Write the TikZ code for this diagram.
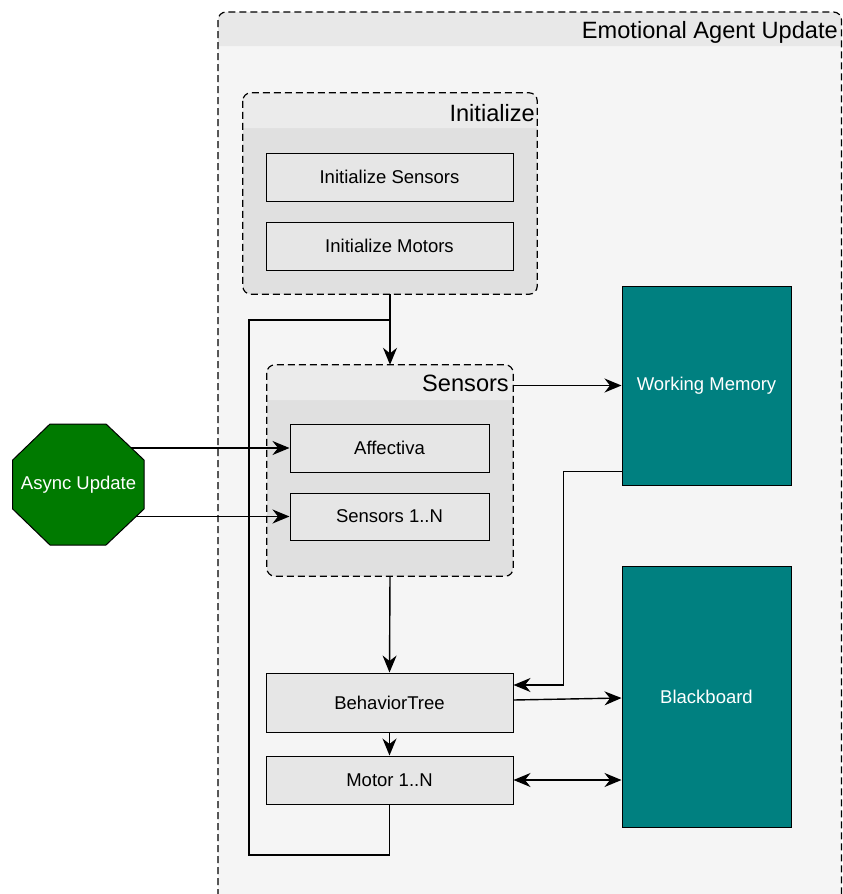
\documentclass[tikz,border=0pt]{standalone}
\usepackage{fontspec}
\setmainfont{Liberation Sans}
\usetikzlibrary{arrows.meta,calc}
\definecolor{outerbody}{HTML}{F5F5F5}
\definecolor{outerhead}{HTML}{E8E8E8}
\definecolor{grpbody}{HTML}{E0E0E0}
\definecolor{grphead}{HTML}{EBEBEB}
\definecolor{boxfill}{HTML}{E6E6E6}
\definecolor{tealbox}{HTML}{008080}
\definecolor{greenoct}{HTML}{007A00}
\pgfdeclarelayer{back}
\pgfdeclarelayer{mid}
\pgfsetlayers{back,mid,main}
\begin{document}
\begin{tikzpicture}[x=1pt,y=-1pt,
  box/.style={draw, line width=1pt, fill=boxfill, inner sep=0pt, minimum width=247pt,
    font=\fontsize{18.5}{22}\selectfont},
  memo/.style={draw, line width=1pt, fill=tealbox, text=white, inner sep=0pt,
    minimum width=169pt, font=\fontsize{18.5}{22}\selectfont},
  grp/.style={fill=grpbody, rounded corners=8pt, inner sep=0pt},
  grpborder/.style={draw, line width=1.2pt, dash pattern=on 7pt off 4pt, rounded corners=8pt},
  ttl/.style={anchor=base east, inner sep=0pt, font=\fontsize{23.6}{28}\selectfont},
  line/.style={line width=1.4pt},
  arr/.style={line width=1.4pt, -{Stealth[length=17pt,width=14pt,inset=5.5pt]}},
  dbl/.style={line width=1.4pt, {Stealth[length=17pt,width=14pt,inset=5.5pt]}-{Stealth[length=17pt,width=14pt,inset=5.5pt]}}
]
\path[use as bounding box] (0,0) rectangle (843,894);

\begin{pgfonlayer}{back}
  \begin{scope}
  \clip (0,0) rectangle (843,894);
  \fill[white] (0,0) rectangle (843,894);
  % outer container
  \fill[outerbody, rounded corners=8pt] (218,12) rectangle (841.5,930);
  \fill[outerhead] (218,46) -- (218,20) arc[start angle=180,end angle=270,radius=8] -- (833.5,12)
     arc[start angle=270,end angle=360,radius=8] -- (841.5,46) -- cycle;
  \draw[grpborder] (218,12) rectangle (841.5,930);
  \end{scope}
  % Initialize group
  \node[grp, minimum width=294pt, minimum height=201pt] (init) at (390,193.5) {};
  \fill[grphead] (243,128) -- (243,101) arc[start angle=180,end angle=270,radius=8] -- (529,93)
     arc[start angle=270,end angle=360,radius=8] -- (537,128) -- cycle;
  \draw[grpborder] (init.north west) rectangle (init.south east);
  % Sensors group
  \node[grp, minimum width=246pt, minimum height=211pt] (sens) at (390,470.5) {};
  \fill[grphead] (267,400) -- (267,373) arc[start angle=180,end angle=270,radius=8] -- (505,365)
     arc[start angle=270,end angle=360,radius=8] -- (513,400) -- cycle;
  \draw[grpborder] (sens.north west) rectangle (sens.south east);
\end{pgfonlayer}

% titles
\node[ttl] (ttlouter) at (838,38) {Emotional Agent Update};
\node[ttl] (ttlinit) at (535,121) {Initialize};
\node[ttl] (ttlsens) at (509,391.5) {Sensors};

% boxes
\node[box, minimum height=48pt] (isens) at (389.5,177) {Initialize Sensors};
\node[box, minimum height=48pt] (imot) at (389.5,246) {Initialize Motors};
\node[box, minimum width=199pt, minimum height=48pt] (aff) at (389.5,448) {Affectiva};
\node[box, minimum width=199pt, minimum height=47pt] (s1n) at (389.5,516.5) {Sensors 1..N};
\node[box, minimum height=59pt] (bt) at (389.5,702.5) {BehaviorTree};
\node[box, minimum height=48pt] (motor) at (389.5,780) {Motor 1..N};
\node[memo, minimum height=199pt] (wm) at (706.5,385.5) {Working Memory};
\node[memo, minimum height=261pt] (bb) at (706.5,696.5) {Blackboard};

% async octagon
\node[minimum width=131pt, minimum height=121pt, inner sep=0pt] (async) at (78.5,484.5) {};
\draw[line width=1pt, fill=greenoct]
  (50,424) -- (106,424) -- (144,460) -- (144,509) -- (106,545) -- (50,545) -- (12.7,509) -- (12.7,460) -- cycle;
\node[text=white, inner sep=0pt, font=\fontsize{18.5}{22}\selectfont] (asynclbl) at (async.center) {Async Update};

% connectors
\begin{pgfonlayer}{mid}
  \draw[arr] (init.south) -- (sens.north);
  \coordinate (lp1) at (249,855);
  \coordinate (lp2) at (249,320);
  \draw[line] (motor.south) |- (lp1) -- (lp2) -- (lp2 -| init.south);
  \draw[arr] (async.center |- aff.west) -- (aff.west);
  \draw[arr] (async.center |- s1n.west) -- (s1n.west);
  \draw[arr] (sens.east |- wm.west) -- (wm.west);
  \coordinate (wmout) at ($(wm.south west)+(0,-14)$);
  \coordinate (btin) at ($(bt.east)+(0,-17.5)$);
  \draw[arr] (wmout) -- ++(-58,0) |- (btin);
  \coordinate (btout) at ($(bt.east)+(0,-2.5)$);
  \coordinate (bbin) at ($(bb.west)+(0,1.5)$);
  \draw[arr] (btout) -- (bbin);
  \draw[dbl] (motor.east) -- (motor.east -| bb.west);
  \draw[arr] (sens.south) -- (bt.north);
  \draw[arr] (bt.south) -- (motor.north);
\end{pgfonlayer}
\end{tikzpicture}
\end{document}
